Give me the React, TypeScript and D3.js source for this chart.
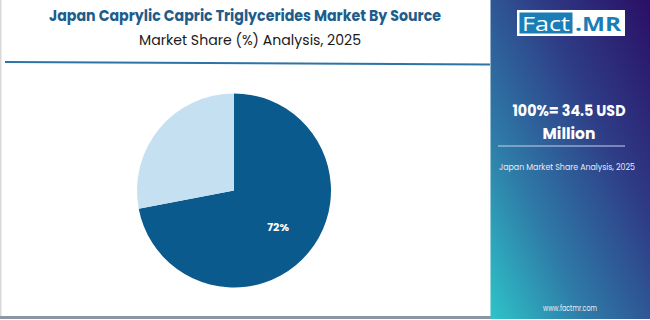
import React from "react";
import * as d3 from "d3";

const categories = ["Segment A", "Segment B"];
const shares = [72, 28];
const shareLabels = ["72%", ""];
const colors = ["#0B5A8D", "#C4E0F1"];

const title = "Japan Caprylic Capric Triglycerides Market By Source";
const subtitle = "Market Share (%) Analysis, 2025";
const totalLine1 = "100%= 34.5 USD";
const totalLine2 = "Million";
const panelCaption = "Japan Market Share Analysis, 2025";
const website = "www.factmr.com";

export default function App() {
  const W = 650, H = 320;
  const cx = 234, cy = 190.5, r = 97;
  const data = categories.map((c, i) => ({ c, v: shares[i], label: shareLabels[i], color: colors[i] }));
  const pie = d3.pie<any>().value((d: any) => d.v).sort(null).startAngle(0).endAngle(2 * Math.PI);
  const arcs = pie(data);
  const arc = d3.arc<any>().innerRadius(0).outerRadius(r);
  const labelArc = d3.arc<any>().innerRadius(r * 0.59).outerRadius(r * 0.59);
  const font = "Poppins, 'Open Sans', sans-serif";
  return (
    <svg width={W} height={H} style={{ position: "absolute", left: 0, top: 0, display: "block" }}>
      <defs>
        <linearGradient id="panelGrad" x1="1" y1="0" x2="0" y2="1">
          <stop offset="0" stopColor="#2A0F66" />
          <stop offset="0.35" stopColor="#2E3C86" />
          <stop offset="0.7" stopColor="#2E7BA8" />
          <stop offset="1" stopColor="#2EC4C8" />
        </linearGradient>
      </defs>
      <rect x={0} y={0} width={W} height={H} fill="#ffffff" />
      {/* left border and bottom line */}
      <rect x={0} y={0} width={1.5} height={318} fill="#D9D9D9" />
      <rect x={0} y={316} width={492} height={3} fill="#8A96A3" />
      {/* title */}
      <text x={245} y={21} textAnchor="middle" fontFamily={font} fontWeight={700} fontSize={15}
        fill="#1E5C8C" textLength={392} lengthAdjust="spacingAndGlyphs">{title}</text>
      <text x={250} y={45} textAnchor="middle" fontFamily={font} fontWeight={400} fontSize={15}
        fill="#1a1a1a" textLength={222} lengthAdjust="spacingAndGlyphs">{subtitle}</text>
      <line x1={5} y1={62} x2={490} y2={64.5} stroke="#2D73A6" strokeWidth={2} />
      {/* pie */}
      <g transform={`translate(${cx},${cy})`}>
        {arcs.map((a, i) => (
          <path key={i} d={arc(a) as string} fill={a.data.color} />
        ))}
        {arcs.map((a, i) => {
          const [lx, ly] = labelArc.centroid(a);
          return a.data.label ? (
            <text key={"l" + i} x={lx} y={ly} textAnchor="middle" dominantBaseline="central"
              fontFamily={font} fontWeight={700} fontSize={11} fill="#ffffff">{a.data.label}</text>
          ) : null;
        })}
      </g>
      {/* right panel */}
      <rect x={490.5} y={0} width={159.5} height={319} fill="url(#panelGrad)" />
      <rect x={517} y={10} width={108} height={26} fill="#ffffff" />
      <rect x={519.5} y={12.5} width={53} height={21} fill="#1A7DB5" />
      <text x={546} y={30.5} textAnchor="middle" fontFamily="'Open Sans', sans-serif" fontSize={20} fill="#ffffff"
        textLength={48} lengthAdjust="spacingAndGlyphs">Fact</text>
      <text x={598} y={30.5} textAnchor="middle" fontFamily="'Open Sans', sans-serif" fontWeight={700} fontSize={20} fill="#1A7DB5"
        textLength={46} lengthAdjust="spacingAndGlyphs">.MR</text>
      <text x={569} y={116} textAnchor="middle" fontFamily={font} fontWeight={700} fontSize={15.5} fill="#ffffff"
        textLength={113} lengthAdjust="spacingAndGlyphs">{totalLine1}</text>
      <text x={569} y={138.5} textAnchor="middle" fontFamily={font} fontWeight={700} fontSize={15.5} fill="#ffffff">{totalLine2}</text>
      <line x1={498} y1={146} x2={625} y2={146} stroke="#C9D2E6" strokeWidth={1.2} />
      <text x={567} y={170} textAnchor="middle" fontFamily={font} fontSize={8.6} fill="#E8ECF5"
        textLength={136} lengthAdjust="spacingAndGlyphs">{panelCaption}</text>
      <text x={570} y={311} textAnchor="middle" fontFamily={font} fontSize={8} fill="#E8ECF5"
        textLength={54} lengthAdjust="spacingAndGlyphs">{website}</text>
    </svg>
  );
}
